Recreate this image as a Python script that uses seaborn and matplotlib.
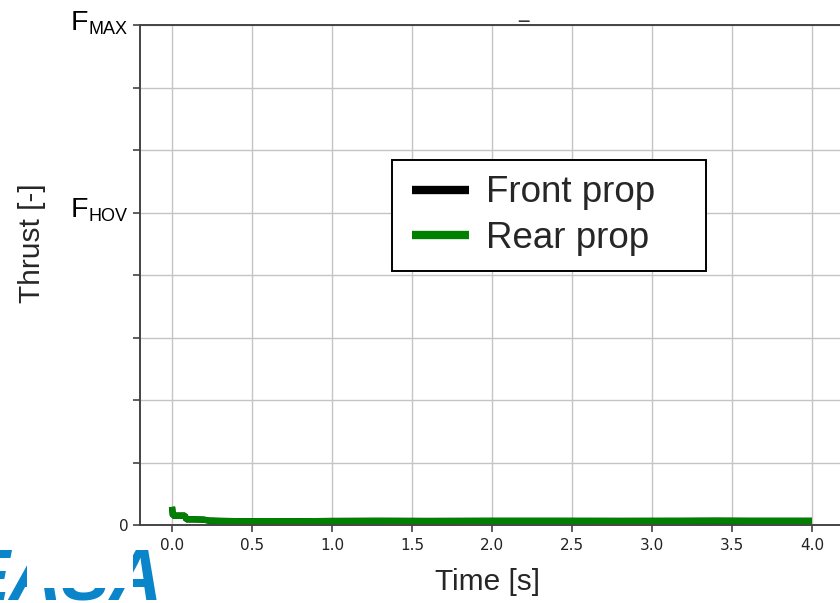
import matplotlib
matplotlib.use("Agg")
import matplotlib.pyplot as plt
import matplotlib.patches as mpatches
import seaborn as sns
import pandas as pd

# Thrust history of both propellers (thrust in units where F_MAX = 8)
time_s = [0.0, 0.006, 0.04, 0.08, 0.09, 0.14, 0.2, 0.23, 0.3, 0.45,
          0.6, 0.8, 1.0, 1.3, 1.6, 2.0, 2.4, 2.8, 3.2, 3.4, 3.6, 4.0]
front_thrust = [0.29, 0.15, 0.15, 0.15, 0.09, 0.09, 0.085, 0.07, 0.065, 0.06,
                0.062, 0.06, 0.064, 0.066, 0.064, 0.066, 0.066, 0.065, 0.066, 0.068, 0.066, 0.066]
rear_thrust = [0.29, 0.15, 0.15, 0.15, 0.09, 0.09, 0.085, 0.07, 0.065, 0.06,
               0.062, 0.06, 0.064, 0.066, 0.064, 0.066, 0.066, 0.065, 0.066, 0.068, 0.066, 0.066]
series_names = ["Front prop", "Rear prop"]
series_colors = ["black", "green"]

f_hov = 5.0
f_max = 8.0
y_ticks = [0, 1, 2, 3, 4, 5, 6, 7, 8]
x_ticks = [0.0, 0.5, 1.0, 1.5, 2.0, 2.5, 3.0, 3.5, 4.0]

df = pd.DataFrame({
    "Time": time_s * 2,
    "Thrust": front_thrust + rear_thrust,
    "Prop": [series_names[0]] * len(time_s) + [series_names[1]] * len(time_s),
})

sns.set_style("ticks")
plt.rcParams["font.family"] = ["DejaVu Sans"]

fig = plt.figure(figsize=(8.4, 6.03), dpi=100)
ax = fig.add_axes([140 / 840, 78 / 603, 704 / 840, 500 / 603])

sns.lineplot(data=df, x="Time", y="Thrust", hue="Prop", hue_order=series_names,
             palette=dict(zip(series_names, series_colors)), linewidth=4.5,
             ax=ax, legend=True, sort=False, estimator=None,
             solid_capstyle="butt", solid_joinstyle="bevel")

ax.set_xlim(-0.2, 4.2)
ax.set_ylim(0, f_max)
ax.set_xticks(x_ticks)
ax.set_xticklabels([f"{v:.1f}" for v in x_ticks])
ax.set_yticks(y_ticks)
ax.set_yticklabels(["0" if v == 0 else "" for v in y_ticks])
ax.grid(True, color="#c4c4c4", linewidth=1.0)
ax.set_axisbelow(True)
ax.spines["right"].set_visible(False)
for side in ("left", "bottom", "top"):
    ax.spines[side].set_color("#444444")
    ax.spines[side].set_linewidth(1.4)
ax.tick_params(axis="both", direction="out", length=5, width=1.1, color="#333333",
               labelsize=11, labelcolor="#222222")
ax.tick_params(axis="x", pad=4.5)

# F_MAX / F_HOV tick labels with small subscripts
ytrans = ax.get_yaxis_transform()
for sub, val in (("MAX", f_max), ("HOV", f_hov)):
    s = ax.annotate(sub, xy=(0, val), xycoords=ytrans, xytext=(-13, -8.5),
                    textcoords="offset pixels", ha="right", va="baseline",
                    fontsize=13, family="Liberation Sans", color="black")
    ax.annotate("F", xy=(0, 0), xycoords=s, xytext=(0.5, 8),
                textcoords="offset pixels", ha="right", va="baseline",
                fontsize=20.5, family="Liberation Sans", color="black")

ax.set_xlabel("Time [s]", fontsize=21.5, family="Liberation Sans")
ax.set_ylabel("Thrust [-]", fontsize=21.5, family="Liberation Sans")
ax.xaxis.set_label_coords(0.493, -0.085)
ax.yaxis.set_label_coords(-0.133, 0.564)

leg = ax.legend(loc="upper left", bbox_to_anchor=(0.358, 0.52, 0.446, 0.21),
                mode="expand", borderaxespad=0,
                prop={"family": "Liberation Sans", "size": 26.5},
                handlelength=1.67, handletextpad=0.46, labelspacing=0.28,
                borderpad=0.42, fancybox=False, framealpha=1, edgecolor="black")
leg.get_frame().set_linewidth(1.4)
for h in leg.legend_handles:
    h.set_linewidth(6)
    h.set_solid_capstyle("butt")
    xd = h.get_xdata()
    h.set_xdata([xd[0] + 3.3, xd[-1]])
    h.set_ydata([h.get_ydata()[0]] * 2)

fig.text(523 / 840, 0.9726, "_", fontsize=15, ha="center", va="baseline", color="#333333")

# Agency logo in the lower-left corner, partly hidden behind the chart
fig.text(-38 / 840, 3 / 603, "EASA", fontsize=52, fontweight="bold", style="italic",
         family="Liberation Sans", color="#0a85c9", ha="left", va="baseline", zorder=-3)
fig.patches.append(mpatches.Rectangle((27 / 840, 15 / 603), 106 / 840, 60 / 603,
                                      transform=fig.transFigure, facecolor="white",
                                      edgecolor="none", zorder=-2))

fig.savefig("out.png", dpi=100)
